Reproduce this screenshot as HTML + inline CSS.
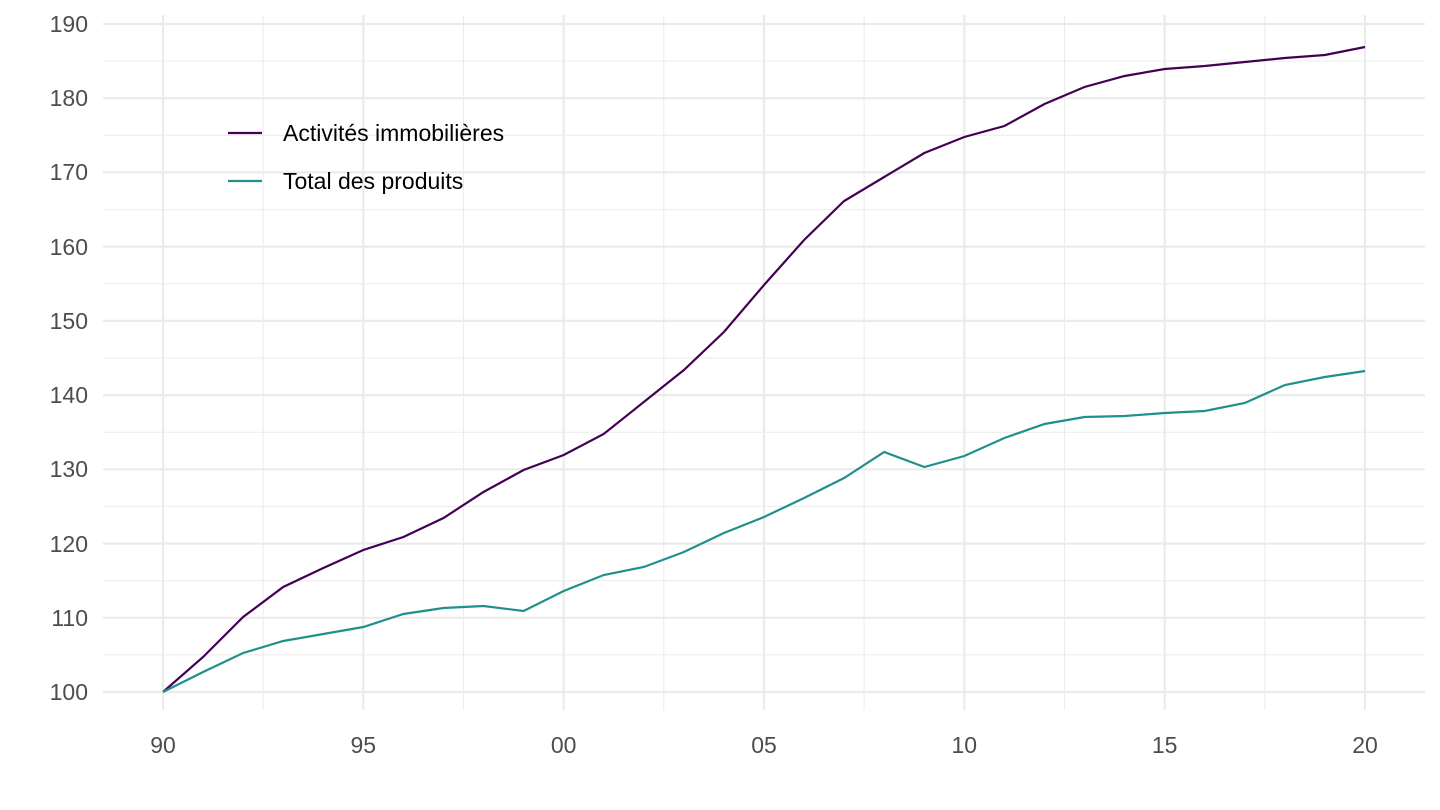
<!DOCTYPE html>
<html><head><meta charset="utf-8"><style>
body{margin:0;background:#fff}
svg{display:block;font-family:"Liberation Sans",Arial,sans-serif}
</style></head><body>
<svg width="1440" height="810" viewBox="0 0 1440 810">
<g stroke="#ebebeb" stroke-width="1">
<line x1="103" x2="1425" y1="654.9" y2="654.9"/><line x1="103" x2="1425" y1="580.7" y2="580.7"/>
<line x1="103" x2="1425" y1="506.4" y2="506.4"/><line x1="103" x2="1425" y1="432.2" y2="432.2"/>
<line x1="103" x2="1425" y1="358" y2="358"/><line x1="103" x2="1425" y1="283.8" y2="283.8"/>
<line x1="103" x2="1425" y1="209.6" y2="209.6"/><line x1="103" x2="1425" y1="135.3" y2="135.3"/>
<line x1="103" x2="1425" y1="61.1" y2="61.1"/>
<line y1="15" y2="710" x1="263.2" x2="263.2"/><line y1="15" y2="710" x1="463.5" x2="463.5"/>
<line y1="15" y2="710" x1="663.8" x2="663.8"/><line y1="15" y2="710" x1="864.1" x2="864.1"/>
<line y1="15" y2="710" x1="1064.5" x2="1064.5"/><line y1="15" y2="710" x1="1264.8" x2="1264.8"/>
</g>
<g stroke="#ebebeb" stroke-width="2.2">
<line x1="103" x2="1425" y1="692" y2="692"/><line x1="103" x2="1425" y1="617.8" y2="617.8"/>
<line x1="103" x2="1425" y1="543.6" y2="543.6"/><line x1="103" x2="1425" y1="469.3" y2="469.3"/>
<line x1="103" x2="1425" y1="395.1" y2="395.1"/><line x1="103" x2="1425" y1="320.9" y2="320.9"/>
<line x1="103" x2="1425" y1="246.7" y2="246.7"/><line x1="103" x2="1425" y1="172.4" y2="172.4"/>
<line x1="103" x2="1425" y1="98.2" y2="98.2"/><line x1="103" x2="1425" y1="24" y2="24"/>
<line y1="15" y2="710" x1="163" x2="163"/><line y1="15" y2="710" x1="363.3" x2="363.3"/>
<line y1="15" y2="710" x1="563.7" x2="563.7"/><line y1="15" y2="710" x1="764" x2="764"/>
<line y1="15" y2="710" x1="964.3" x2="964.3"/><line y1="15" y2="710" x1="1164.7" x2="1164.7"/>
<line y1="15" y2="710" x1="1365" x2="1365"/>
</g>
<g fill="#4d4d4d" font-size="23" text-anchor="end">
<text x="88" y="700">100</text><text x="88" y="626">110</text><text x="88" y="552">120</text>
<text x="88" y="477">130</text><text x="88" y="403">140</text><text x="88" y="329">150</text>
<text x="88" y="255">160</text><text x="88" y="180">170</text><text x="88" y="106">180</text>
<text x="88" y="32">190</text>
</g>
<g fill="#4d4d4d" font-size="23" text-anchor="middle">
<text x="163" y="753">90</text><text x="363.3" y="753">95</text><text x="563.7" y="753">00</text>
<text x="764" y="753">05</text><text x="964.3" y="753">10</text><text x="1164.7" y="753">15</text>
<text x="1365" y="753">20</text>
</g>
<polyline fill="none" stroke="#440154" stroke-width="2.2" points="163,692 203.1,657 243.1,617 283.2,587 323.3,568 363.3,550 403.4,537 443.5,518 483.5,492 523.6,470 563.7,455 603.7,434 643.8,402 683.9,370 723.9,332 764,285 804.1,240 844.1,201 884.2,177 924.3,153 964.3,137 1004.4,126 1044.5,104 1084.5,87 1124.6,76 1164.7,69 1204.7,66 1244.8,62 1284.9,58 1324.9,55 1365,47"/>
<polyline fill="none" stroke="#21908c" stroke-width="2.2" points="163,692 203.1,672 243.1,653 283.2,641 323.3,634 363.3,627 403.4,614 443.5,608 483.5,606 523.6,611 563.7,591 603.7,575 643.8,567 683.9,552 723.9,533 764,517 804.1,498 844.1,478 884.2,452 924.3,467 964.3,456 1004.4,438 1044.5,424 1084.5,417 1124.6,416 1164.7,413 1204.7,411 1244.8,403 1284.9,385 1324.9,377 1365,371"/>
<line x1="228" x2="262" y1="133" y2="133" stroke="#440154" stroke-width="2.2"/>
<line x1="228" x2="262" y1="181" y2="181" stroke="#21908c" stroke-width="2.2"/>
<g fill="#000" font-size="23">
<text x="283" y="141">Activités immobilières</text>
<text x="283" y="189">Total des produits</text>
</g>
</svg>
</body></html>
